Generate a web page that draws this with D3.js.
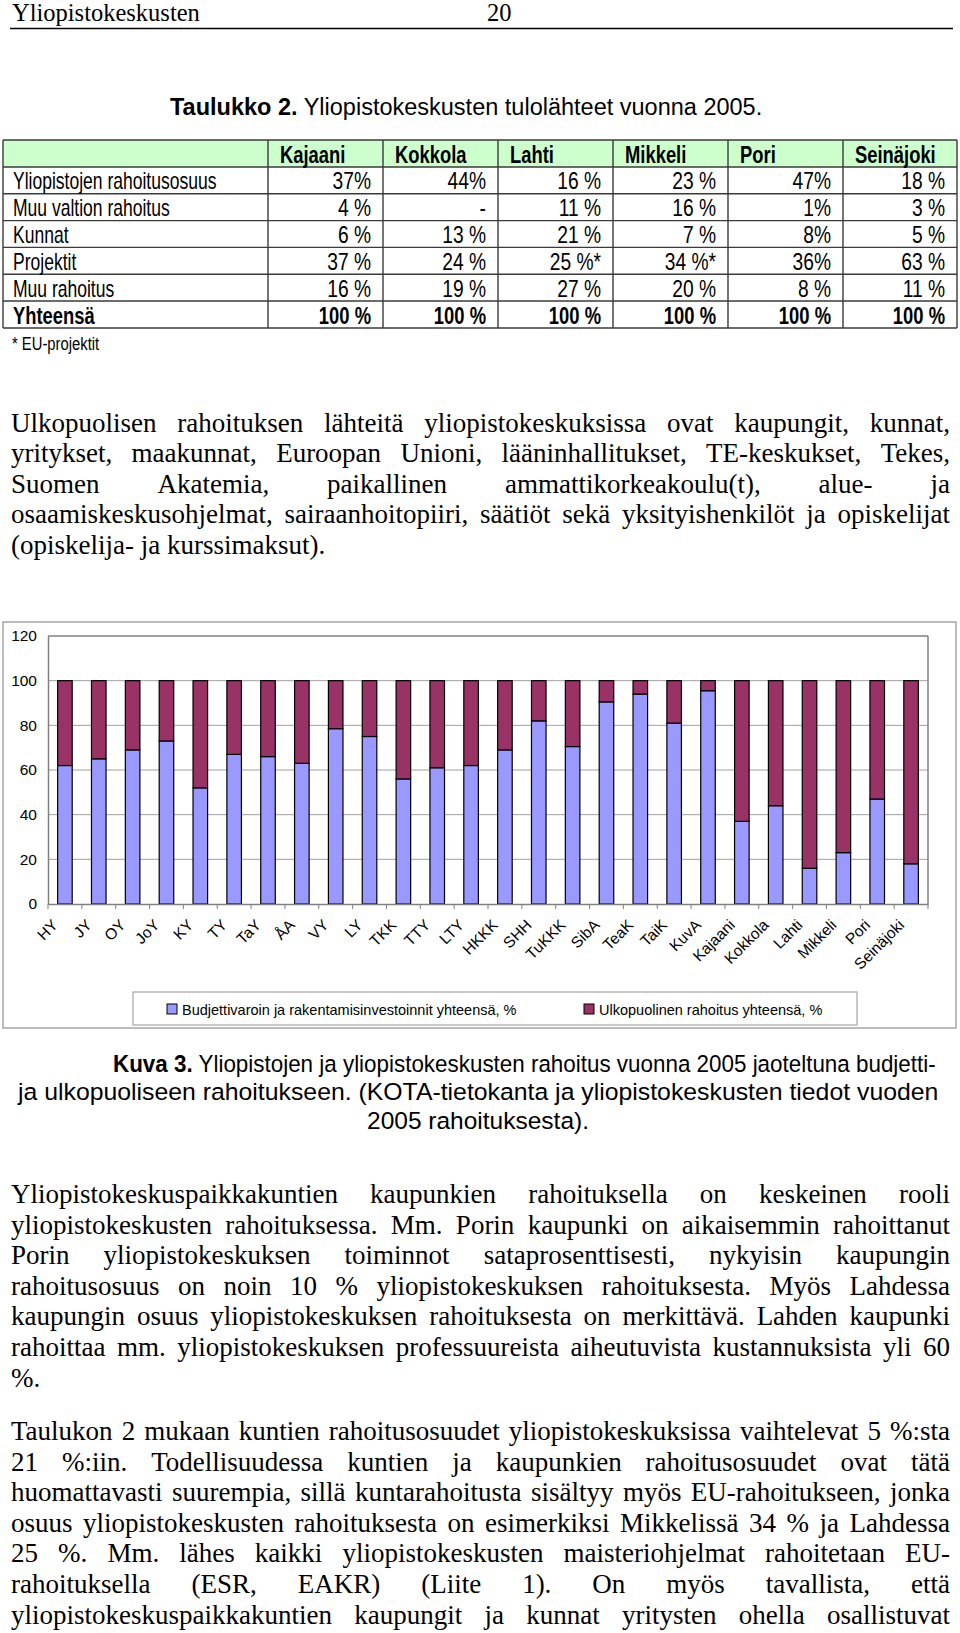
<!DOCTYPE html>
<html><head><meta charset="utf-8">
<script src="https://cdn.jsdelivr.net/npm/d3@7"></script>
<style>html,body{margin:0;padding:0;background:#fff;} svg{display:block;} text{white-space:pre;}</style>
</head><body>
<svg id="page" width="960" height="1633"></svg>
<script>
// ---------------- DATA ----------------
const headerLeft = "Yliopistokeskusten";
const pageNumber = "20";
const tableTitleBold = "Taulukko 2.";
const tableTitleRest = " Yliopistokeskusten tulolähteet vuonna 2005.";
const tableCols = ["Kajaani", "Kokkola", "Lahti", "Mikkeli", "Pori", "Seinäjoki"];
const tableRows = ["Yliopistojen rahoitusosuus", "Muu valtion rahoitus", "Kunnat", "Projektit", "Muu rahoitus", "Yhteensä"];
const rowYliopistot = ["37%", "44%", "16 %", "23 %", "47%", "18 %"];
const rowMuuValtion = ["4 %", "-", "11 %", "16 %", "1%", "3 %"];
const rowKunnat = ["6 %", "13 %", "21 %", "7 %", "8%", "5 %"];
const rowProjektit = ["37 %", "24 %", "25 %*", "34 %*", "36%", "63 %"];
const rowMuuRahoitus = ["16 %", "19 %", "27 %", "20 %", "8 %", "11 %"];
const rowYhteensa = ["100 %", "100 %", "100 %", "100 %", "100 %", "100 %"];
const tableFootnote = "* EU-projektit";

const para1 = [
  "Ulkopuolisen rahoituksen lähteitä yliopistokeskuksissa ovat kaupungit, kunnat,",
  "yritykset, maakunnat, Euroopan Unioni, lääninhallitukset, TE-keskukset, Tekes,",
  "Suomen Akatemia, paikallinen ammattikorkeakoulu(t), alue- ja",
  "osaamiskeskusohjelmat, sairaanhoitopiiri, säätiöt sekä yksityishenkilöt ja opiskelijat",
  "(opiskelija- ja kurssimaksut)."
];

const categories = ["HY","JY","OY","JoY","KY","TY","TaY","ÅA","VY","LY","TKK","TTY","LTY","HKKK","SHH","TuKKK","SibA","TeaK","TaiK","KuvA","Kajaani","Kokkola","Lahti","Mikkeli","Pori","Seinäjoki"];
const budget   = [62, 65, 69, 73, 52, 67, 66, 63, 78.5, 75, 56, 61, 62, 69, 82, 70.5, 90.5, 94, 81, 95.5, 37, 44, 16, 23, 47, 18];
const external = [38, 35, 31, 27, 48, 33, 34, 37, 21.5, 25, 44, 39, 38, 31, 18, 29.5, 9.5, 6, 19, 4.5, 63, 56, 84, 77, 53, 82];
const yTicks = [0, 20, 40, 60, 80, 100, 120];
const seriesNames = ["Budjettivaroin ja rakentamisinvestoinnit yhteensä, %", "Ulkopuolinen rahoitus yhteensä, %"];
const seriesColors = ["#9999FF", "#993366"];

const captionBold = "Kuva 3.";
const captionLines = [
  " Yliopistojen ja yliopistokeskusten rahoitus vuonna 2005 jaoteltuna budjetti-",
  "ja ulkopuoliseen rahoitukseen. (KOTA-tietokanta ja yliopistokeskusten tiedot vuoden",
  "2005 rahoituksesta)."
];

const para2 = [
  "Yliopistokeskuspaikkakuntien kaupunkien rahoituksella on keskeinen rooli",
  "yliopistokeskusten rahoituksessa. Mm. Porin kaupunki on aikaisemmin rahoittanut",
  "Porin yliopistokeskuksen toiminnot sataprosenttisesti, nykyisin kaupungin",
  "rahoitusosuus on noin 10 % yliopistokeskuksen rahoituksesta. Myös Lahdessa",
  "kaupungin osuus yliopistokeskuksen rahoituksesta on merkittävä. Lahden kaupunki",
  "rahoittaa mm. yliopistokeskuksen professuureista aiheutuvista kustannuksista yli 60",
  "%."
];
const para3 = [
  "Taulukon 2 mukaan kuntien rahoitusosuudet yliopistokeskuksissa vaihtelevat 5 %:sta",
  "21 %:iin. Todellisuudessa kuntien ja kaupunkien rahoitusosuudet ovat tätä",
  "huomattavasti suurempia, sillä kuntarahoitusta sisältyy myös EU-rahoitukseen, jonka",
  "osuus yliopistokeskusten rahoituksesta on esimerkiksi Mikkelissä 34 % ja Lahdessa",
  "25 %. Mm. lähes kaikki yliopistokeskusten maisteriohjelmat rahoitetaan EU-",
  "rahoituksella (ESR, EAKR) (Liite 1). On myös tavallista, että",
  "yliopistokeskuspaikkakuntien kaupungit ja kunnat yritysten ohella osallistuvat"
];

// ---------------- DRAW ----------------
const SERIF = "'Liberation Serif','Times New Roman',serif";
const SANS = "'Liberation Sans',Arial,sans-serif";
const svg = d3.select("#page");
svg.append("rect").attr("width", 960).attr("height", 1633).attr("fill", "#fff");

// page header
svg.append("text").attr("x", 12).attr("y", 21).attr("font-family", SERIF).attr("font-size", 24.5).attr("fill", "#000").text(headerLeft);
svg.append("text").attr("x", 487).attr("y", 21).attr("font-family", SERIF).attr("font-size", 24.5).attr("fill", "#000").text(pageNumber);
svg.append("line").attr("x1", 10).attr("x2", 953).attr("y1", 28.5).attr("y2", 28.5).attr("stroke", "#000").attr("stroke-width", 1.5);

// table title
const tt = svg.append("text").attr("x", 170).attr("y", 115).attr("font-family", SANS).attr("font-size", 23.5).attr("fill", "#000");
tt.append("tspan").attr("font-weight", "bold").text(tableTitleBold);
tt.append("tspan").text(tableTitleRest);

// table
const tableData = [rowYliopistot, rowMuuValtion, rowKunnat, rowProjektit, rowMuuRahoitus, rowYhteensa];
const colEdges = [3, 268, 383, 498, 613, 728, 843, 957];
const rowEdges = [140, 167, 193.8, 220.6, 247.4, 274.2, 301, 328];
const tg = svg.append("g");
tg.append("rect").attr("x", colEdges[0]).attr("y", rowEdges[0]).attr("width", colEdges[7] - colEdges[0]).attr("height", rowEdges[1] - rowEdges[0]).attr("fill", "#CCFFCC");
rowEdges.forEach(ry => tg.append("line").attr("x1", colEdges[0]).attr("x2", colEdges[7]).attr("y1", ry).attr("y2", ry).attr("stroke", "#3a3a3a").attr("stroke-width", 1.4));
colEdges.forEach(cx => tg.append("line").attr("x1", cx).attr("x2", cx).attr("y1", rowEdges[0]).attr("y2", rowEdges[7]).attr("stroke", "#3a3a3a").attr("stroke-width", 1.4));
tableCols.forEach((c, i) => {
  tg.append("text").attr("transform", `translate(${colEdges[i + 1] + 12},${rowEdges[1] - 4.5}) scale(0.8,1)`)
    .attr("font-family", SANS).attr("font-size", 23).attr("font-weight", "bold").attr("fill", "#000").text(c);
});
tableRows.forEach((r, j) => {
  const yb = rowEdges[j + 2] - 4.5;
  const bold = j === tableRows.length - 1;
  tg.append("text").attr("transform", `translate(${colEdges[0] + 10},${yb}) scale(${bold ? 0.8 : 0.73},1)`)
    .attr("font-family", SANS).attr("font-size", bold ? 23 : 24).attr("font-weight", bold ? "bold" : "normal").attr("fill", "#000").text(r);
  tableData[j].forEach((v, i) => {
    tg.append("text").attr("transform", `translate(${colEdges[i + 2] - 12},${yb}) scale(0.8,1)`)
      .attr("text-anchor", "end").attr("font-family", SANS).attr("font-size", bold ? 23 : 24).attr("font-weight", bold ? "bold" : "normal").attr("fill", "#000").text(v);
  });
});
svg.append("text").attr("transform", "translate(12,350) scale(0.78,1)").attr("font-family", SANS).attr("font-size", 19).attr("fill", "#000").text(tableFootnote);

// justified paragraph helper
const meas = svg.append("text").attr("font-family", SERIF).attr("font-size", 27).attr("x", -1000).attr("y", -1000);
function measure(s) { meas.text(s); return meas.node().getComputedTextLength(); }
function drawParagraph(lines, y0, lh, lastJustified) {
  const x0 = 11, x1 = 950, W = x1 - x0;
  lines.forEach((line, li) => {
    const y = y0 + li * lh;
    const isLast = li === lines.length - 1;
    const t = svg.append("text").attr("y", y).attr("font-family", SERIF).attr("font-size", 27).attr("fill", "#000");
    if (isLast && !lastJustified) { t.attr("x", x0).text(line); return; }
    const words = line.split(" ");
    const widths = words.map(measure);
    const sum = d3.sum(widths);
    const gap = (W - sum) / (words.length - 1);
    if (gap < 3) { t.attr("x", x0).attr("textLength", W).attr("lengthAdjust", "spacingAndGlyphs").text(line); return; }
    let pos = x0;
    words.forEach((w, i) => {
      t.append("tspan").attr("x", pos).text(i < words.length - 1 ? w + " " : w);
      pos += widths[i] + gap;
    });
  });
}
drawParagraph(para1, 432, 30.4, false);

// ---------- chart ----------
const chartBox = {left: 3, right: 956, top: 622, bottom: 1028};
const plot = {left: 48, right: 928, top: 636, bottom: 904};
const cg = svg.append("g");
cg.append("rect").attr("x", chartBox.left).attr("y", chartBox.top).attr("width", chartBox.right - chartBox.left).attr("height", chartBox.bottom - chartBox.top)
  .attr("fill", "#fff").attr("stroke", "#a6a6a6").attr("stroke-width", 1.5);

const x = d3.scaleBand().domain(categories).range([plot.left, plot.right]).paddingInner(0.57).paddingOuter(0.285);
const y = d3.scaleLinear().domain([0, 120]).range([plot.bottom, plot.top]);

// gridlines
cg.append("g").selectAll("line").data(yTicks.filter(v => v > 0)).join("line")
  .attr("x1", plot.left).attr("x2", plot.right).attr("y1", d => y(d)).attr("y2", d => y(d))
  .attr("stroke", d => d === 120 ? "#808080" : "#a0a0a0").attr("stroke-width", d => d === 120 ? 1.5 : 1);
cg.append("line").attr("x1", plot.right).attr("x2", plot.right).attr("y1", plot.top).attr("y2", plot.bottom).attr("stroke", "#808080").attr("stroke-width", 1.5);

// y axis
const yAxis = cg.append("g").attr("transform", `translate(${plot.left},0)`)
  .call(d3.axisLeft(y).tickValues(yTicks).tickSize(0).tickPadding(11).tickFormat(d3.format("d")));
yAxis.select(".domain").attr("stroke", "#808080").attr("stroke-width", 1.5);
yAxis.selectAll("text").attr("font-family", SANS).attr("font-size", 15.5).attr("fill", "#000");

// bars
const rowsData = categories.map((c, i) => ({cat: c, budget: budget[i], external: external[i]}));
const stacked = d3.stack().keys(["budget", "external"])(rowsData);
cg.append("g").selectAll("g").data(stacked).join("g").attr("fill", (d, i) => seriesColors[i])
  .selectAll("rect").data(d => d).join("rect")
  .attr("x", d => x(d.data.cat)).attr("width", x.bandwidth())
  .attr("y", d => y(d[1])).attr("height", d => y(d[0]) - y(d[1]))
  .attr("stroke", "#000").attr("stroke-width", 1.2);

// x axis
const xAxis = cg.append("g").attr("transform", `translate(0,${plot.bottom})`)
  .call(d3.axisBottom(x).tickSize(0).tickPadding(0));
xAxis.select(".domain").attr("stroke", "#808080").attr("stroke-width", 1.5);
const half = (x.step() - x.bandwidth()) / 2;
const boundaries = categories.map(c => x(c) - half).concat([x(categories[categories.length - 1]) + x.bandwidth() + half]);
cg.append("g").selectAll("line").data(boundaries).join("line")
  .attr("x1", d => d).attr("x2", d => d).attr("y1", plot.bottom).attr("y2", plot.bottom + 5)
  .attr("stroke", "#808080").attr("stroke-width", 1);
xAxis.selectAll(".tick text")
  .attr("font-family", SANS).attr("font-size", 15.5).attr("fill", "#000")
  .attr("text-anchor", "end").attr("dy", "0").attr("y", 0)
  .attr("transform", "translate(-6,22) rotate(-45)");

// legend
const lg = cg.append("g");
lg.append("rect").attr("x", 133).attr("y", 992).attr("width", 724).attr("height", 33).attr("fill", "#fff").attr("stroke", "#a6a6a6").attr("stroke-width", 1.2);
const legendX = [167, 584];
seriesNames.forEach((n, i) => {
  lg.append("rect").attr("x", legendX[i]).attr("y", 1004).attr("width", 10).attr("height", 10).attr("fill", seriesColors[i]).attr("stroke", "#000").attr("stroke-width", 1);
  lg.append("text").attr("x", legendX[i] + 15).attr("y", 1014.5).attr("font-family", SANS).attr("font-size", 14.5).attr("fill", "#000").text(n);
});

// caption (line extents); horizontal fit by scaling
const capY = [1072, 1100, 1129];
const capX = [[113, 936], [18, 939], null];
captionLines.forEach((l, i) => {
  const t = svg.append("text").attr("x", 0).attr("y", 0).attr("font-family", SANS).attr("font-size", 24.5).attr("fill", "#000");
  if (i === 0) t.append("tspan").attr("font-weight", "bold").text(captionBold);
  t.append("tspan").text(l);
  const w = t.node().getComputedTextLength();
  if (capX[i]) {
    const sx = (capX[i][1] - capX[i][0]) / w;
    t.attr("transform", `translate(${capX[i][0]},${capY[i]}) scale(${sx},1)`);
  } else {
    t.attr("transform", `translate(${478 - w / 2},${capY[i]})`);
  }
});

drawParagraph(para2, 1203, 30.6, false);
drawParagraph(para3, 1440, 30.6, true);
meas.remove();
</script>
</body></html>
